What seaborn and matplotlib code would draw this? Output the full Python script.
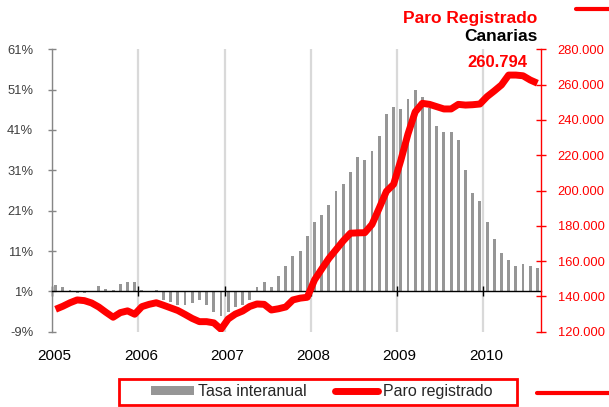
import numpy as np
import pandas as pd
import matplotlib
matplotlib.use("Agg")
import matplotlib.pyplot as plt
from matplotlib.lines import Line2D
from matplotlib.patches import Patch, Rectangle
from matplotlib.transforms import ScaledTranslation
import seaborn as sns

# ---- data ----
years = ["2005", "2006", "2007", "2008", "2009", "2010"]

# Tasa interanual (%), one value per month, Jan 2005 .. Aug 2010
tasa = [2.6, 2.2, 1.4, 0.6, 0.6, 1.0, 2.4, 1.7, 1.4, 2.9, 3.2, 3.2,
        1.4, 1.2, 1.4, -1.2, -1.7, -2.4, -2.5, -1.9, -1.1, -2.3, -4.0, -5.1,
        -4.0, -2.9, -2.5, -1.1, 2.2, 3.2, 2.2, 4.7, 7.4, 9.7, 11.1, 14.6,
        18.2, 20.0, 22.5, 25.8, 27.7, 30.6, 34.2, 33.6, 35.9, 39.6, 44.9, 46.8,
        46.2, 48.6, 50.9, 49.3, 46.4, 42.1, 40.6, 40.5, 38.4, 31.1, 25.3, 23.3,
        18.3, 14.0, 10.6, 8.7, 7.2, 7.9, 7.4, 6.8]

# Paro registrado (personas)
paro = [132700, 134400, 136400, 138000, 137600, 136300, 134000, 131000, 128200, 130800, 131800, 129900,
        134200, 135500, 136400, 135000, 133500, 132000, 129800, 127500, 125700, 125700, 125000, 121400,
        127200, 130000, 131700, 134300, 135700, 135500, 132300, 133000, 134000, 138000, 139000, 139500,
        149300, 155500, 161500, 166500, 171500, 175800, 176000, 176100, 180800, 190000, 199500, 203500,
        217000, 232000, 244500, 249400, 248800, 247500, 246200, 246200, 248800, 248400, 248600, 249000,
        253200, 256400, 259800, 265400, 265400, 265000, 262600, 260794]

months = list(range(len(tasa)))

# ---- style ----
sns.set_style("white")
plt.rcParams["font.family"] = ["Liberation Sans", "DejaVu Sans"]

RED = "#FF0000"
GRAY_BAR = "#969696"
BASE = 1  # horizontal axis crosses the left axis at 1%

W, H = 609, 407
fig = plt.figure(figsize=(W / 100, H / 100), dpi=100)
ax = fig.add_axes([52 / W, 1 - 331.7 / H, (541 - 52) / W, (331.7 - 49.3) / H])

df = pd.DataFrame({"mes": months, "tasa": tasa, "paro": paro})
df["alto"] = df["tasa"] - BASE

sns.barplot(data=df, x="mes", y="alto", ax=ax, color=GRAY_BAR, saturation=1,
            width=0.4, errorbar=None, bottom=BASE, zorder=2,
            edgecolor="none", linewidth=0)

ax.set_xlim(-0.5, len(months) - 0.5)
ax.set_ylim(-9, 61)
yt = list(range(-9, 62, 10))
ax.set_yticks(yt)
ax.set_yticklabels([f"{t}%" for t in yt])
year_pos = [12 * i - 0.5 for i in range(len(years))]
ax.set_xticks(year_pos)
ax.set_xticklabels(years)
ax.set_xlabel("")
ax.set_ylabel("")
ax.grid(axis="x", color="#d9d9d9", linewidth=1.6)
ax.grid(axis="y", visible=False)
ax.set_axisbelow(True)

ax.spines["top"].set_position(("data", BASE))
ax.spines["top"].set_color("black")
ax.spines["top"].set_linewidth(1.0)
ax.spines["top"].set_zorder(3)
ax.spines["bottom"].set_visible(False)
ax.spines["right"].set_visible(False)
ax.spines["left"].set_color("#868686")
ax.spines["left"].set_linewidth(1.0)
ax.tick_params(axis="x", bottom=False, top=True, labelbottom=True, labeltop=False,
               direction="inout", length=7, width=1, color="black", pad=9,
               labelsize=11, labelcolor="black")
ax.tick_params(axis="y", left=True, direction="inout", length=6, width=1,
               color="#868686", labelsize=9.4, labelcolor="#404040", pad=10.5)
shift = ScaledTranslation(2.5 / 100, 0, fig.dpi_scale_trans)
for lab in ax.get_xticklabels():
    lab.set_transform(lab.get_transform() + shift)

# ---- line on the secondary axis ----
ax2 = ax.twinx()
sns.lineplot(data=df, x="mes", y="paro", ax=ax2, color=RED, linewidth=5,
             solid_joinstyle="round", solid_capstyle="butt")
ax2.set_ylim(120000, 280000)
rt = list(range(120000, 280001, 20000))
ax2.set_yticks(rt)
ax2.set_yticklabels([f"{v:,}".replace(",", ".") for v in rt])
ax2.set_xlabel("")
ax2.set_ylabel("")
for s in ("top", "bottom", "left"):
    ax2.spines[s].set_visible(False)
ax2.spines["right"].set_color(RED)
ax2.spines["right"].set_linewidth(1.0)
ax2.tick_params(axis="y", right=True, direction="inout", length=7, width=1,
                color=RED, labelcolor=RED, labelsize=9.3, pad=8.5)
ax2.grid(False)

# last value label
ax2.annotate(f"{paro[-1]:,}".replace(",", "."), xy=(months[-1], paro[-1]),
             xytext=(-29, 14.7), textcoords="offset points", ha="center", va="center",
             color=RED, fontsize=12, fontweight="bold")

# ---- titles ----
fig.text(537 / W, 1 - 22.7 / H, "Paro Registrado", ha="right", va="baseline",
         color=RED, fontsize=12.5, fontweight="bold")
fig.text(538 / W, 1 - 40.7 / H, "Canarias", ha="right", va="baseline",
         color="black", fontsize=12.5, fontweight="bold")

# ---- legend ----
handles = [Patch(facecolor=GRAY_BAR, edgecolor="none", label="Tasa interanual"),
           Line2D([], [], color=RED, linewidth=5, label="Paro registrado")]
fig.legend(handles=handles, loc="center", bbox_to_anchor=(321.5 / W, 1 - 391.5 / H),
           ncol=2, frameon=False, fontsize=11.5, handlelength=2.7, handleheight=0.45,
           handletextpad=0.3, columnspacing=1.75, borderpad=0)
fig.add_artist(Rectangle((118.7 / W, 1 - 404.7 / H), (517 - 118.7) / W, (404.7 - 378.7) / H,
                         transform=fig.transFigure, fill=False, edgecolor=RED, linewidth=2))

# decorative red bars
fig.add_artist(Line2D([576 / W, 1], [1 - 9 / H] * 2, transform=fig.transFigure,
                      color=RED, linewidth=3))
fig.add_artist(Line2D([537 / W, 1], [1 - 392.7 / H] * 2, transform=fig.transFigure,
                      color=RED, linewidth=3))

fig.savefig("out.png", dpi=100)
